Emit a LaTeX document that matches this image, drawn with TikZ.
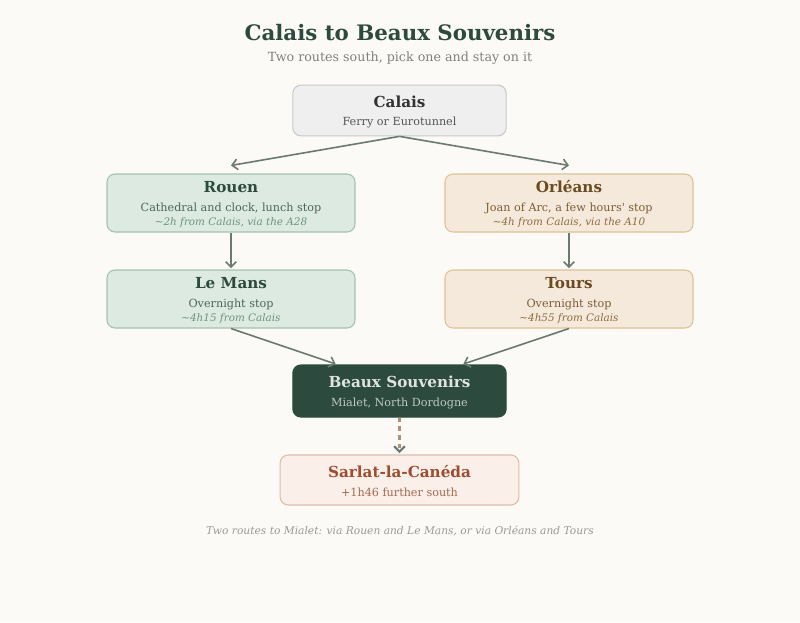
\documentclass[tikz,border=0pt]{standalone}
\usepackage{fontspec}
\setmainfont{DejaVu Serif}
\usetikzlibrary{arrows.meta}

\definecolor{paper}{HTML}{FBFAF6}
\definecolor{forest}{HTML}{2D4A3E}
\definecolor{greyline}{HTML}{6A7A6F}
\definecolor{greyfill}{HTML}{EFEFF0}
\definecolor{greyedge}{HTML}{C9C9CB}
\definecolor{greytext}{HTML}{555555}
\definecolor{sagefill}{HTML}{DCEAE1}
\definecolor{sageedge}{HTML}{A3C2B1}
\definecolor{sagetext}{HTML}{4D6659}
\definecolor{sagesoft}{HTML}{6F927F}
\definecolor{sandfill}{HTML}{F5E9DC}
\definecolor{sandedge}{HTML}{DEC293}
\definecolor{sandhead}{HTML}{6B4A1C}
\definecolor{sandtext}{HTML}{7D5C32}
\definecolor{sandsoft}{HTML}{8E6B3B}
\definecolor{rosefill}{HTML}{FBEFEA}
\definecolor{roseedge}{HTML}{E3BBA6}
\definecolor{rosehead}{HTML}{9E4E2C}
\definecolor{rosetext}{HTML}{A8694A}
\definecolor{dashline}{HTML}{B48F76}

\newcommand{\stopinfo}[3]{{\bfseries\fontsize{11.4}{13}\selectfont\rule{0pt}{11pt}#1}\\[3pt]#2\\{\itshape\fontsize{7.8}{9}\selectfont #3}}
\newcommand{\placeinfo}[2]{{\bfseries\fontsize{11.4}{13}\selectfont\rule{0pt}{11pt}#1}\\[3pt]#2}

\tikzset{
    place/.style={draw, rounded corners=6pt, line width=0.8pt, align=center, inner sep=0pt,
        minimum width=186pt, minimum height=43.5pt, font=\fontsize{8.4}{11}\selectfont},
    grey/.style={place, fill=greyfill, draw=greyedge, text=greytext,
        minimum width=160pt, minimum height=38pt},
    sage/.style={place, fill=sagefill, draw=sageedge, text=sagetext},
    sand/.style={place, fill=sandfill, draw=sandedge, text=sandtext},
    home/.style={place, fill=forest, draw=forest, text=white!85!forest,
        minimum width=160pt, minimum height=39pt},
    rose/.style={place, fill=rosefill, draw=roseedge, text=rosetext,
        minimum width=179pt, minimum height=37.5pt},
    route/.style={->, draw=greyline, line width=1.2pt},
    sidetrip/.style={-{Straight Barb[length=4pt,width=8pt,color=greyline]}, draw=dashline,
        line width=1.6pt, dash pattern=on 3.5pt off 3pt},
}

\begin{document}
\begin{tikzpicture}[>={Straight Barb[length=4pt,width=8pt]}, x=0.75pt, y=-0.75pt]
    \fill[paper] (0, 0) rectangle (800, 622);

    \node[text=forest, font=\bfseries\fontsize{16}{19}\selectfont] (title) at (400, 33) {Calais to Beaux Souvenirs};
    \node[text=black!50, font=\fontsize{9.5}{11}\selectfont] (subtitle) at (400, 58) {Two routes south, pick one and stay on it};

    \node[grey] (calais) at (399.5, 110.5) {\placeinfo{\textcolor{black!80}{Calais}}{Ferry or Eurotunnel}};

    \node[sage] (rouen) at (231, 203) {\stopinfo{\textcolor{forest}{Rouen}}{Cathedral and clock, lunch stop}{\textcolor{sagesoft}{\textasciitilde 2h from Calais, via the A28}}};
    \node[sage] (lemans) at (231, 299) {\stopinfo{\textcolor{forest}{Le Mans}}{Overnight stop}{\textcolor{sagesoft}{\textasciitilde 4h15 from Calais}}};

    \node[sand] (orleans) at (569, 203) {\stopinfo{\textcolor{sandhead}{Orléans}}{Joan of Arc, a few hours\textquotesingle\ stop}{\textcolor{sandsoft}{\textasciitilde 4h from Calais, via the A10}}};
    \node[sand] (tours) at (569, 299) {\stopinfo{\textcolor{sandhead}{Tours}}{Overnight stop}{\textcolor{sandsoft}{\textasciitilde 4h55 from Calais}}};

    \node[home] (beaux) at (399.5, 391) {\placeinfo{Beaux Souvenirs}{\textcolor{white!70!forest}{Mialet, North Dordogne}}};
    \node[rose] (sarlat) at (399.5, 480) {\placeinfo{\textcolor{rosehead}{Sarlat-la-Canéda}}{+1h46 further south}};

    \node[text=black!40, font=\itshape\fontsize{8}{10}\selectfont] (note) at (400, 531) {Two routes to Mialet: via Rouen and Le Mans, or via Orléans and Tours};

    % the two routes
    \draw[route] (calais.south) -- ([yshift=6pt]rouen.north);
    \draw[route] (calais.south) -- ([yshift=6pt]orleans.north);
    \draw[route, shorten >=1pt] (rouen.south) -- (lemans.north);
    \draw[route, shorten >=1pt] (orleans.south) -- (tours.north);
    \draw[route, shorten >=1pt] (lemans.south) -- (beaux.157);
    \draw[route, shorten >=1pt] (tours.south) -- (beaux.23);
    % side trip
    \draw[sidetrip, shorten >=1pt] (beaux.south) -- (sarlat.north);
\end{tikzpicture}
\end{document}
